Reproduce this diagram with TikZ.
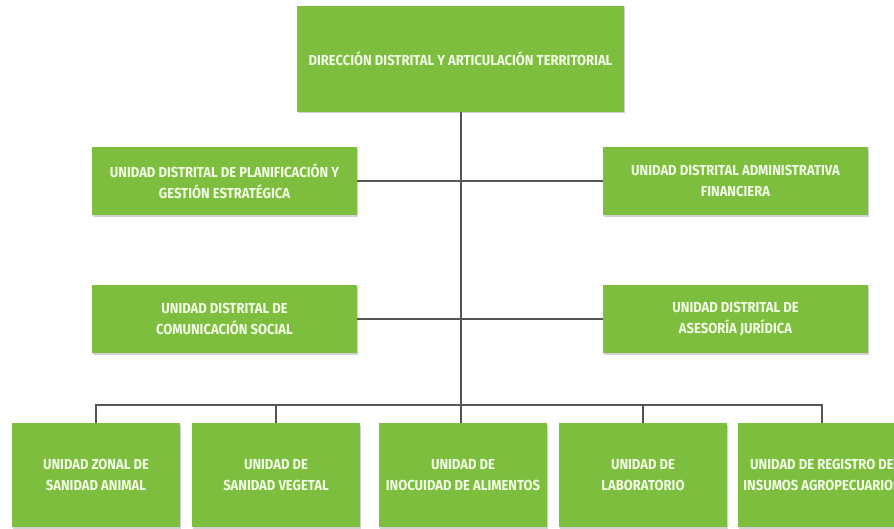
\documentclass[tikz,border=0pt]{standalone}
\usepackage{fontspec}
\setmainfont{Fira Sans}[FakeStretch=0.9]
\usetikzlibrary{shadows}
\definecolor{boxgreen}{HTML}{7DBE3E}
\definecolor{txtgreen}{HTML}{F2FBE6}
\definecolor{linegray}{HTML}{555555}
\tikzset{
  unitbox/.style={fill=boxgreen, draw=none, text=txtgreen, font=\bfseries\fontsize{14.5}{21}\selectfont,
    align=center, inner sep=2pt,
    drop shadow={shadow xshift=1.2pt, shadow yshift=-1.5pt, opacity=0.35, fill=gray}},
  conn/.style={draw=linegray, line width=2.2pt}
}
\begin{document}
\begin{tikzpicture}[x=1pt,y=-1pt]
\useasboundingbox (0,0) rectangle (894,528);
\clip (0,0) rectangle (894,528);
\fill[white] (0,0) rectangle (894,528);
\coordinate (j) at (461,405);
\node[unitbox, minimum width=327pt, minimum height=106pt] (top) at (460.5,58.5) {DIRECCIÓN DISTRITAL Y ARTICULACIÓN TERRITORIAL};
\draw[conn] (top.south -| j) -- (j);
\node[unitbox, minimum width=265pt, minimum height=68pt] (l2) at (224.5,181) {UNIDAD DISTRITAL DE PLANIFICACIÓN Y\\GESTIÓN ESTRATÉGICA};
\node[unitbox, minimum width=265pt, minimum height=68pt] (r2) at (735.5,181) {UNIDAD DISTRITAL ADMINISTRATIVA\\FINANCIERA};
\node[unitbox, minimum width=265pt, minimum height=68pt] (l3) at (224.5,319) {UNIDAD DISTRITAL DE\\COMUNICACIÓN SOCIAL};
\node[unitbox, minimum width=265pt, minimum height=68pt] (r3) at (735.5,319) {UNIDAD DISTRITAL DE\\ASESORÍA JURÍDICA};
\draw[conn] (l2.east) -- (r2.west);
\draw[conn] (l3.east) -- (r3.west);
\node[unitbox, minimum width=168pt, minimum height=104pt] (b1) at (96,475) {UNIDAD ZONAL DE\\SANIDAD ANIMAL};
\node[unitbox, minimum width=168pt, minimum height=104pt] (b2) at (276,475) {UNIDAD DE\\SANIDAD VEGETAL};
\node[unitbox, minimum width=168pt, minimum height=104pt] (b3) at (463,475) {UNIDAD DE\\INOCUIDAD DE ALIMENTOS};
\node[unitbox, minimum width=168pt, minimum height=104pt] (b4) at (643,475) {UNIDAD DE\\LABORATORIO};
\node[unitbox, minimum width=168pt, minimum height=104pt] (b5) at (822,475) {UNIDAD DE REGISTRO DE\\INSUMOS AGROPECUARIOS};
\draw[conn] (b1.north) |- (j) -| (b5.north);
\draw[conn] (b2.north) -- (b2.north |- j);
\draw[conn] (b4.north) -- (b4.north |- j);
\draw[conn] (j) -- (j |- b3.north);
\end{tikzpicture}
\end{document}
